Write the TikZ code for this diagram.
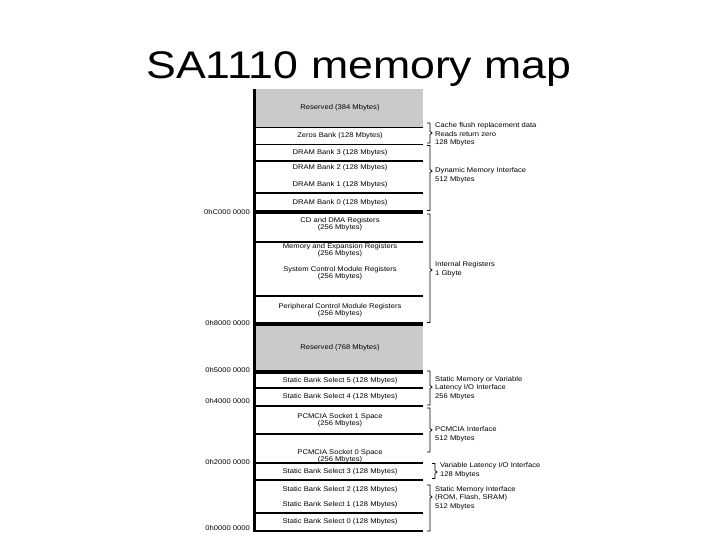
\documentclass[tikz,border=0pt]{standalone}
\usepackage{fontspec}
\setmainfont{Liberation Sans}
\newcommand\sx[1]{\scalebox{1.12}[1]{#1}}
\newcommand\brk[4]{\draw[brkline] (#1-3,#2) -- (#1,#2) -- (#1,#3-1.5) -- (#1+2,#3) -- (#1,#3+1.5) -- (#1,#4) -- (#1-3,#4);}
\begin{document}
\begin{tikzpicture}[x=1pt,y=-1pt,
  lab/.style={font=\fontsize{6.8}{6.6}\selectfont, inner sep=0pt, align=center},
  side/.style={font=\fontsize{6.8}{8.6}\selectfont, inner sep=0pt, align=left, anchor=west},
  addr/.style={font=\fontsize{6.8}{8}\selectfont, inner sep=0pt, anchor=base east},
  resv/.style={fill={rgb,255:red,202;green,202;blue,202}},
  thinrule/.style={line width=1.1pt},
  thickrule/.style={line width=3.5pt},
  brkline/.style={line width=0.8pt},
  titletext/.style={font=\fontsize{38.5}{40}\selectfont, inner sep=0pt, anchor=base}]
\useasboundingbox (0,0) rectangle (720,540);

\node[titletext] (title) at (359,78.3) {\scalebox{1.16}[1]{SA1110 memory map}};

% gray reserved areas
\fill[resv] (254,89) rectangle (423,127.5);
\fill[resv] (254,324) rectangle (423,372);

% rules
\foreach \yy in {127.5,144.5,161,193,242,296,388,406,434,463,480,513}
  \draw[thinrule] (254,\yy) -- (423,\yy);
\foreach \yy in {212,324,372}
  \draw[thickrule] (254,\yy) -- (423,\yy);
\draw[line width=2pt] (254,530.5) -- (423,530.5);
\draw[line width=3pt] (254.5,89) -- (254.5,531.5);

% cell texts
\node[lab] (r384) at (340,108) {\sx{Reserved (384 Mbytes)}};
\node[lab] (zb) at (340,136) {\sx{Zeros Bank (128 Mbytes)}};
\node[lab] (d3) at (340,153) {\sx{DRAM Bank 3 (128 Mbytes)}};
\node[lab] (d2) at (340,168) {\sx{DRAM Bank 2 (128 Mbytes)}};
\node[lab] (d1) at (340,185) {\sx{DRAM Bank 1 (128 Mbytes)}};
\node[lab] (d0) at (340,203) {\sx{DRAM Bank 0 (128 Mbytes)}};
\node[lab] (cd) at (340,224) {\sx{CD and DMA Registers}\\\sx{(256 Mbytes)}};
\node[lab] (me) at (340,250) {\sx{Memory and Expansion Registers}\\\sx{(256 Mbytes)}};
\node[lab] (sc) at (340,273) {\sx{System Control Module Registers}\\\sx{(256 Mbytes)}};
\node[lab] (pc) at (340,310) {\sx{Peripheral Control Module Registers}\\\sx{(256 Mbytes)}};
\node[lab] (r768) at (340,348) {\sx{Reserved (768 Mbytes)}};
\node[lab] (s5) at (340,381) {\sx{Static Bank Select 5 (128 Mbytes)}};
\node[lab] (s4) at (340,396.5) {\sx{Static Bank Select 4 (128 Mbytes)}};
\node[lab] (p1) at (340,420) {\sx{PCMCIA Socket 1 Space}\\\sx{(256 Mbytes)}};
\node[lab] (p0) at (340,456) {\sx{PCMCIA Socket 0 Space}\\\sx{(256 Mbytes)}};
\node[lab] (s3) at (340,472) {\sx{Static Bank Select 3 (128 Mbytes)}};
\node[lab] (s2) at (340,490) {\sx{Static Bank Select 2 (128 Mbytes)}};
\node[lab] (s1) at (340,505) {\sx{Static Bank Select 1 (128 Mbytes)}};
\node[lab] (s0) at (340,521.5) {\sx{Static Bank Select 0 (128 Mbytes)}};

% addresses
\node[addr] (aC) at (250,214.5) {\sx{0hC000 0000}};
\node[addr] (a8) at (250,325.5) {\sx{0h8000 0000}};
\node[addr] (a5) at (250,372.5) {\sx{0h5000 0000}};
\node[addr] (a4) at (250,403.5) {\sx{0h4000 0000}};
\node[addr] (a2) at (250,464.5) {\sx{0h2000 0000}};
\node[addr] (a0) at (250,530.5) {\sx{0h0000 0000}};

% brackets
\brk{430}{123}{133}{143}
\brk{430}{145.5}{171}{210.5}
\brk{430}{214}{270}{322.5}
\brk{430}{371}{387}{405}
\brk{430}{408}{430}{452}
\brk{435}{463.5}{472}{478.5}
\brk{430}{485}{497}{531}

% side texts
\node[side] (t1) at (435,134.5) {\sx{Cache flush replacement data}\\\sx{Reads return zero}\\\sx{128 Mbytes}};
\node[side] (t2) at (435,175.5) {\sx{Dynamic Memory Interface}\\\sx{512 Mbytes}};
\node[side] (t3) at (435,269.5) {\sx{Internal Registers}\\\sx{1 Gbyte}};
\node[side] (t4) at (435,388) {\sx{Static Memory or Variable}\\\sx{Latency I/O Interface}\\\sx{256 Mbytes}};
\node[side] (t5) at (435,434) {\sx{PCMCIA Interface}\\\sx{512 Mbytes}};
\node[side] (t6) at (440,470.5) {\sx{Variable Latency I/O Interface}\\\sx{128 Mbytes}};
\node[side] (t7) at (435,498) {\sx{Static Memory Interface}\\\sx{(ROM, Flash, SRAM)}\\\sx{512 Mbytes}};
\end{tikzpicture}
\end{document}
